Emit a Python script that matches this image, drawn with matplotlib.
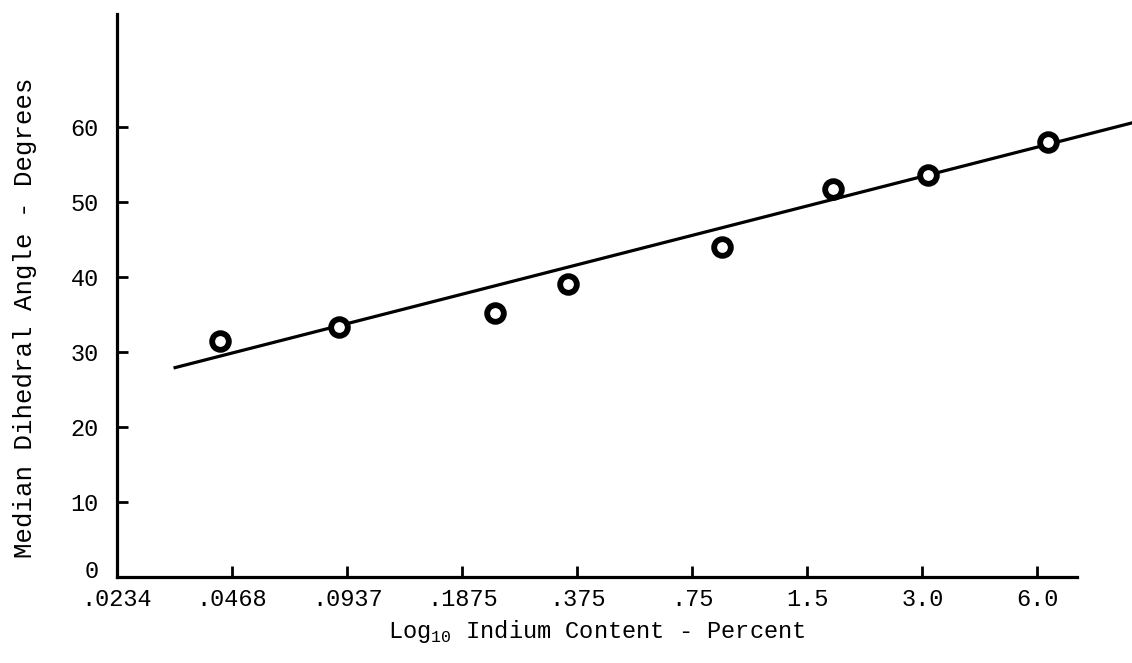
import matplotlib.pyplot as plt
import matplotlib.transforms as mtransforms
import numpy as np

plt.rcParams['font.family'] = ['Liberation Mono', 'DejaVu Sans Mono']
plt.rcParams['mathtext.fontset'] = 'custom'
plt.rcParams['mathtext.rm'] = 'Liberation Mono'

# indium content (percent) and median dihedral angle (degrees)
indium = [0.0435, 0.0892, 0.228, 0.355, 0.897, 1.75, 3.10, 6.40]
angle = [31.5, 33.3, 35.2, 39.1, 44.0, 51.7, 53.6, 58.0]

# hand-drawn fit line, two end points
fit_x = [0.0332, 10.6]
fit_y = [27.9, 60.5]

tick_vals = [0.0234, 0.0468, 0.0937, 0.1875, 0.375, 0.75, 1.5, 3.0, 6.0]
tick_labels = ['.0234', '.0468', '.0937', '.1875', '.375', '.75', '1.5', '3.0', '6.0']
y_ticks = [0, 10, 20, 30, 40, 50, 60]

fig = plt.figure(figsize=(11.32, 6.63), dpi=100)
ax = fig.add_axes([0.1034, 0.1297, 0.848, 0.849])

ax.set_xscale('log', base=2)
ax.set_xlim(0.0234, 7.62)
ax.set_ylim(0, 75)

ax.plot(fit_x, fit_y, color='black', lw=2.3, clip_on=False, zorder=2)
ax.plot(indium, angle, 'o', ms=12, mfc='white', mec='black', mew=4.2, zorder=3)

ax.spines['top'].set_visible(False)
ax.spines['right'].set_visible(False)
ax.spines['left'].set_linewidth(2.3)
ax.spines['bottom'].set_linewidth(2.3)

ax.set_xticks(tick_vals)
ax.set_xticklabels(tick_labels)
ax.xaxis.set_minor_locator(plt.NullLocator())
ax.set_yticks(y_ticks)
ax.tick_params(direction='in', length=8, width=2, labelsize=17, color='black')
ax.tick_params(axis='x', pad=8)
ax.tick_params(axis='y', pad=13)

# nudge the "0" label up so it clears ".0234"
zero_lbl = ax.get_yticklabels()[0]
zero_lbl.set_transform(zero_lbl.get_transform() +
                       mtransforms.ScaledTranslation(0, 6 / 72, fig.dpi_scale_trans))

ax.set_xlabel('Log$_{10}$ Indium Content - Percent', fontsize=17, labelpad=5)
ax.set_ylabel('Median Dihedral Angle - Degrees', fontsize=18.5)
ax.yaxis.set_label_coords(-0.083, 0.46)

fig.savefig('out.png', dpi=100)
